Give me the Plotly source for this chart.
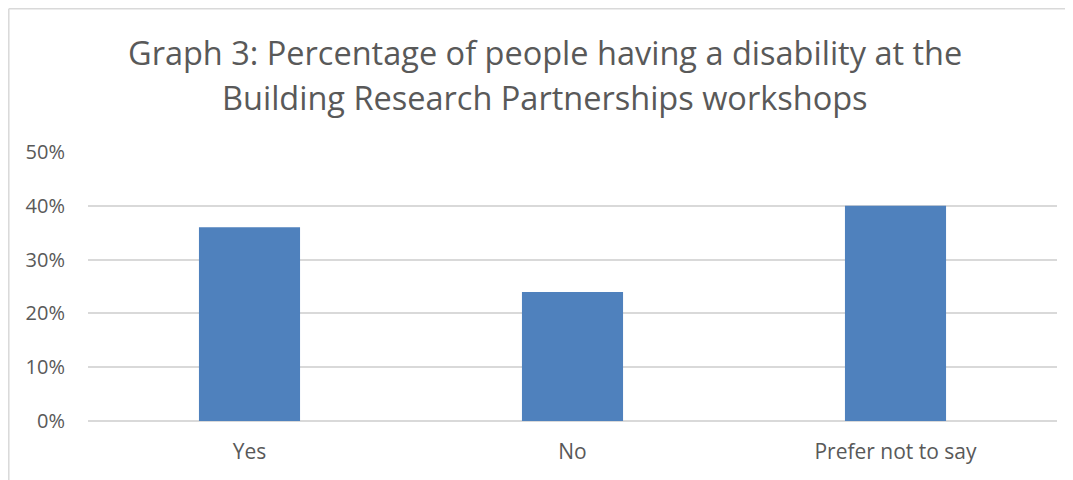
import plotly.graph_objects as go

categories = ["Yes", "No", "Prefer not to say"]
values = [0.36, 0.24, 0.40]
y_ticks = [0, 0.1, 0.2, 0.3, 0.4, 0.5]
y_tick_labels = ["0%", "10%", "20%", "30%", "40%", "50%"]
title_lines = [
    "Graph 3: Percentage of people having a disability at the",
    "Building Research Partnerships workshops",
]

# page offset of the figure inside the browser page
OFF = 8
W, H = 1073, 480
ml, mr, mt, mb = 88 - OFF, 24, 152 - OFF, 480 - (421 - OFF)
pw, ph = W - ml - mr, H - mt - mb

def px_x(x):
    # x given in page pixels
    return (x - OFF - ml) / pw

def px_y(y):
    return 1 + (mt - (y - OFF)) / ph

fig = go.Figure(
    go.Bar(
        x=categories,
        y=values,
        marker=dict(color="#4F81BD", line=dict(width=0)),
        width=0.313,
        hoverinfo="x+y",
    )
)

font_family = "Open Sans, Liberation Sans, sans-serif"
annotations = []
for i, (line, yc) in enumerate(zip(title_lines, [52, 97])):
    annotations.append(dict(
        text=line,
        xref="paper",
        yref="paper",
        x=px_x(545),
        y=px_y(yc),
        xanchor="center",
        yanchor="middle",
        showarrow=False,
        font=dict(size=32.5, color="#595959", family=font_family),
    ))

fig.update_layout(
    width=W,
    height=H,
    margin=dict(l=ml, r=mr, t=mt, b=mb),
    paper_bgcolor="white",
    plot_bgcolor="white",
    showlegend=False,
    font=dict(family=font_family, color="#595959", size=18),
    xaxis=dict(
        showgrid=False,
        showline=False,
        zeroline=False,
        ticks="",
        ticklabelstandoff=16,
        tickfont=dict(size=21, color="#595959"),
    ),
    yaxis=dict(
        range=[0, 0.5],
        tickvals=y_ticks,
        ticktext=y_tick_labels,
        showgrid=True,
        gridcolor="#D9D9D9",
        gridwidth=1.5,
        zeroline=True,
        zerolinecolor="#D9D9D9",
        zerolinewidth=1.5,
        showline=False,
        ticks="",
        ticklabelstandoff=22,
        tickfont=dict(size=20, color="#595959"),
    ),
    annotations=annotations,
    shapes=[
        dict(type="line", xref="paper", yref="paper",
             x0=px_x(8.8), x1=px_x(8.8), y0=px_y(H + 20), y1=px_y(8.8),
             line=dict(color="#D9D9D9", width=1.5)),
        dict(type="line", xref="paper", yref="paper",
             x0=px_x(8.8), x1=px_x(W + 20), y0=px_y(8.8), y1=px_y(8.8),
             line=dict(color="#D9D9D9", width=1.5)),
    ],
)

fig.write_html("out.html")
